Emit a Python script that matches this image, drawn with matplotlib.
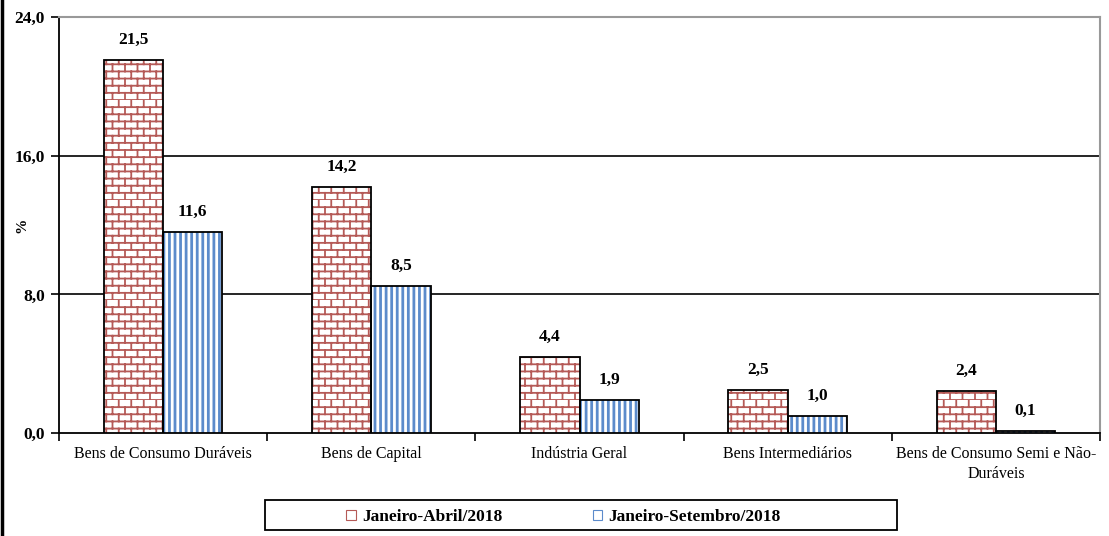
import numpy as np
import matplotlib
matplotlib.use('Agg')
import matplotlib.pyplot as plt
from matplotlib import hatch as mhatch
from matplotlib.path import Path
from matplotlib.patches import Patch, Rectangle
from matplotlib.lines import Line2D

# Data
categories = ['Bens de Consumo Duráveis', 'Bens de Capital', 'Indústria Geral',
              'Bens Intermediários', 'Bens de Consumo Semi e Não-\nDuráveis']
jan_abr = [21.5, 14.2, 4.4, 2.5, 2.4]
jan_set = [11.6, 8.5, 1.9, 1.0, 0.1]
series_names = ['Janeiro-Abril/2018', 'Janeiro-Setembro/2018']
yticks = [0, 8, 16, 24]


# brick hatch pattern, triggered by the letter 'b'
class BrickHatch(mhatch.HatchPatternBase):
    rows = 14
    cols = 8

    def __init__(self, hatch, density):
        self.on = 'b' in hatch
        self.num_vertices = (self.rows * 2 + self.rows * self.cols * 2) if self.on else 0

    def set_vertices_and_codes(self, vertices, codes):
        h = 1.0 / self.rows
        w = 1.0 / self.cols
        k = 0
        for r in range(self.rows):
            y = r * h
            vertices[k] = (0, y); codes[k] = Path.MOVETO
            vertices[k + 1] = (1, y); codes[k + 1] = Path.LINETO
            k += 2
        for r in range(self.rows):
            off = 0 if r % 2 == 0 else w / 2
            for c in range(self.cols):
                x = c * w + off
                vertices[k] = (x, r * h); codes[k] = Path.MOVETO
                vertices[k + 1] = (x, (r + 1) * h); codes[k + 1] = Path.LINETO
                k += 2


mhatch._hatch_types.append(BrickHatch)

plt.rcParams['font.family'] = ['Liberation Serif', 'DejaVu Serif']
plt.rcParams['hatch.linewidth'] = 1.3

red = '#B55A57'
blue = '#5C8BCB'

fig = plt.figure(figsize=(11.09, 5.36), dpi=100)
ax = fig.add_axes([0.0532, 0.192, 0.9387, 0.776])

x = np.arange(len(categories))
bw = 0.285

ax.bar(x - bw / 2, jan_abr, bw, color='white', edgecolor=red, hatch='b', linewidth=0, zorder=3)
ax.bar(x - bw / 2, jan_abr, bw, fill=False, edgecolor='black', linewidth=1.3, zorder=4)
blue_bars = ax.bar(x + bw / 2, jan_set, bw, color='white', edgecolor=blue, hatch='|||', linewidth=0, zorder=3)
for b in blue_bars:
    if hasattr(b, 'set_hatch_linewidth'):
        b.set_hatch_linewidth(2.0)
ax.bar(x + bw / 2, jan_set, bw, fill=False, edgecolor='black', linewidth=1.3, zorder=4)

for i in range(len(categories)):
    ax.text(x[i] - bw / 2, jan_abr[i] + 0.7, f'{jan_abr[i]:.1f}'.replace('.', ','),
            ha='center', va='bottom', fontsize=12.5, fontweight='bold')
    ax.text(x[i] + bw / 2, jan_set[i] + 0.7, f'{jan_set[i]:.1f}'.replace('.', ','),
            ha='center', va='bottom', fontsize=12.5, fontweight='bold')

ax.set_xlim(-0.5, len(categories) - 0.5)
ax.set_ylim(0, 24)
ax.set_yticks(yticks)
ax.set_yticklabels([f'{v:.1f}'.replace('.', ',') for v in yticks], fontsize=12.5, fontweight='bold')
ax.set_xticks(x)
ax.set_xticklabels(categories, fontsize=11.5, linespacing=1.4)
ax.tick_params(axis='x', length=0, pad=9)
ax.set_xticks(np.arange(-0.5, len(categories)), minor=True)
ax.tick_params(axis='x', which='minor', length=6, direction='out', width=1.2)
ax.tick_params(axis='y', length=6, direction='out', width=1.2, pad=4)
ax.set_ylabel('%', fontsize=11, fontweight='bold')
ax.yaxis.set_label_coords(-0.029, 0.5)

for v in yticks[1:-1]:
    ax.axhline(v, color='black', linewidth=1.2, zorder=1)

for s in ['left', 'bottom']:
    ax.spines[s].set_linewidth(1.3)
for s in ['top', 'right']:
    ax.spines[s].set_color('#999999')
    ax.spines[s].set_linewidth(1.5)

# legend: box drawn separately, entries centred in it
handles = [Patch(facecolor='white', edgecolor=red, hatch='|', linewidth=0.8),
           Patch(facecolor='white', edgecolor=blue, hatch='|', linewidth=0.8)]
leg = fig.legend(handles, series_names, loc='center',
                 bbox_to_anchor=(0.508, 0.035), ncol=2, frameon=False,
                 prop={'size': 12.5, 'weight': 'bold'},
                 handlelength=0.55, handleheight=0.55, handletextpad=0.35,
                 columnspacing=5.2, borderaxespad=0)
fig.add_artist(Rectangle((265 / 1109, 6 / 536), 632 / 1109, 30 / 536, fill=False,
                         edgecolor='black', linewidth=1.3, transform=fig.transFigure))

fig.add_artist(Line2D([0.002, 0.002], [0, 1], color='black', linewidth=2.5, transform=fig.transFigure))

fig.savefig('out.png', dpi=100)
